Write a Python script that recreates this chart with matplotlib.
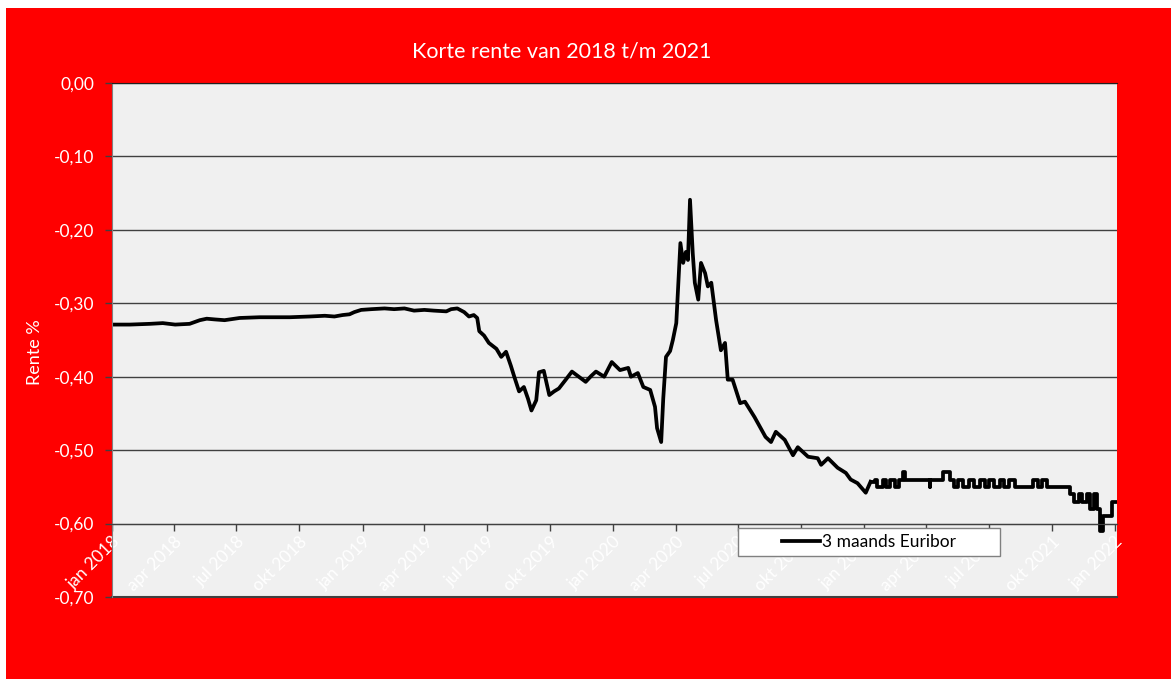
import matplotlib
matplotlib.use("Agg")
from matplotlib import pyplot as plt
from matplotlib.patches import Rectangle
from matplotlib.ticker import FuncFormatter
import pandas as pd

plt.rcParams['font.family'] = ['Lato', 'DejaVu Sans']

# 3 maands Euribor (datum, rente %)
datums = [
    "2018-01-01", "2018-01-27", "2018-02-25", "2018-03-16", "2018-04-03", "2018-04-24",
    "2018-05-09", "2018-05-19", "2018-05-31", "2018-06-14", "2018-07-06", "2018-08-04",
    "2018-09-17", "2018-10-16", "2018-11-07", "2018-11-21", "2018-12-03", "2018-12-13",
    "2018-12-20", "2018-12-30", "2019-01-14", "2019-02-02", "2019-02-16", "2019-03-03",
    "2019-03-17", "2019-04-01", "2019-04-15", "2019-05-03", "2019-05-10", "2019-05-19",
    "2019-05-29", "2019-06-05", "2019-06-12", "2019-06-17", "2019-06-20", "2019-06-27",
    "2019-07-04", "2019-07-15", "2019-07-22", "2019-07-29", "2019-08-05", "2019-08-10",
    "2019-08-17", "2019-08-24", "2019-08-30", "2019-09-04", "2019-09-11", "2019-09-15",
    "2019-09-22", "2019-09-30", "2019-10-07", "2019-10-14", "2019-10-24", "2019-11-02",
    "2019-11-12", "2019-11-22", "2019-11-30", "2019-12-07", "2019-12-19", "2019-12-30",
    "2020-01-11", "2020-01-23", "2020-01-27", "2020-02-06", "2020-02-14", "2020-02-24",
    "2020-03-02", "2020-03-05", "2020-03-11", "2020-03-14", "2020-03-18", "2020-03-24",
    "2020-03-28", "2020-04-02", "2020-04-08", "2020-04-12", "2020-04-16", "2020-04-19",
    "2020-04-22", "2020-04-26", "2020-04-29", "2020-05-04", "2020-05-08", "2020-05-14",
    "2020-05-18", "2020-05-23", "2020-05-30", "2020-06-06", "2020-06-12", "2020-06-16",
    "2020-06-23", "2020-07-04", "2020-07-11", "2020-07-25", "2020-08-10", "2020-08-18",
    "2020-08-25", "2020-09-07", "2020-09-19", "2020-09-26", "2020-10-11", "2020-10-25",
    "2020-10-30", "2020-11-09", "2020-11-23", "2020-12-05", "2020-12-12", "2020-12-22",
    "2021-01-03", "2021-01-10",
]
rente = [
    -0.329, -0.329, -0.328, -0.327, -0.329, -0.328,
    -0.323, -0.321, -0.322, -0.323, -0.320, -0.319,
    -0.319, -0.318, -0.317, -0.318, -0.316, -0.315,
    -0.312, -0.309, -0.308, -0.307, -0.308, -0.307,
    -0.310, -0.309, -0.310, -0.311, -0.308, -0.307,
    -0.312, -0.318, -0.316, -0.320, -0.338, -0.344,
    -0.354, -0.362, -0.373, -0.366, -0.385, -0.400,
    -0.420, -0.414, -0.430, -0.446, -0.432, -0.394,
    -0.392, -0.425, -0.420, -0.416, -0.404, -0.393,
    -0.400, -0.407, -0.399, -0.393, -0.400, -0.380,
    -0.391, -0.388, -0.400, -0.395, -0.414, -0.418,
    -0.441, -0.470, -0.489, -0.430, -0.373, -0.365,
    -0.350, -0.327, -0.218, -0.245, -0.230, -0.241,
    -0.159, -0.232, -0.272, -0.295, -0.245, -0.259,
    -0.277, -0.272, -0.323, -0.364, -0.354, -0.404,
    -0.404, -0.436, -0.434, -0.455, -0.482, -0.489,
    -0.475, -0.486, -0.507, -0.496, -0.509, -0.511,
    -0.520, -0.511, -0.524, -0.531, -0.540, -0.545,
    -0.558, -0.543,
]

# 2021: op twee decimalen afgerond, trapsgewijs
datums_2021 = [
    "2021-01-10", "2021-01-16", "2021-01-20", "2021-01-28", "2021-02-02", "2021-02-08",
    "2021-02-14", "2021-02-20", "2021-02-26", "2021-03-01", "2021-04-06", "2021-04-07",
    "2021-04-25", "2021-05-05", "2021-05-11", "2021-05-18", "2021-05-25", "2021-06-02",
    "2021-06-09", "2021-06-18", "2021-06-25", "2021-07-02", "2021-07-09", "2021-07-17",
    "2021-07-24", "2021-07-31", "2021-08-09", "2021-09-04", "2021-09-11", "2021-09-17",
    "2021-09-24", "2021-10-28", "2021-11-03", "2021-11-10", "2021-11-14", "2021-11-21",
    "2021-11-26", "2021-12-01", "2021-12-06", "2021-12-10", "2021-12-15", "2021-12-28",
    "2022-01-03",
]
rente_2021 = [
    -0.543, -0.54, -0.55, -0.54, -0.55, -0.54,
    -0.55, -0.54, -0.53, -0.54, -0.55, -0.54,
    -0.53, -0.54, -0.55, -0.54, -0.55, -0.54,
    -0.55, -0.54, -0.55, -0.54, -0.55, -0.54,
    -0.55, -0.54, -0.55, -0.54, -0.55, -0.54,
    -0.55, -0.56, -0.57, -0.56, -0.57, -0.56,
    -0.58, -0.56, -0.58, -0.61, -0.59, -0.57,
    -0.57,
]

yticks = [0.0, -0.1, -0.2, -0.3, -0.4, -0.5, -0.6, -0.7]
maanden = ["jan", "apr", "jul", "okt"]
xticks = pd.date_range("2018-01-01", "2022-01-01", freq="QS")
xlabels = [f"{maanden[(d.month - 1) // 3]} {d.year}" for d in xticks]

rood = "#FF0000"
fig = plt.figure(figsize=(11.71, 6.79), dpi=100, facecolor="white")
fig.add_artist(Rectangle((6 / 1171, 0), 1, 671 / 679, transform=fig.transFigure,
                         facecolor=rood, edgecolor="none", zorder=-10))

ax = fig.add_axes([112 / 1171, 82 / 679, 1005 / 1171, 514 / 679])
ax.set_facecolor("#F0F0F0")

ax.plot(pd.to_datetime(datums), rente, color="black", lw=2.7, label="3 maands Euribor",
        solid_joinstyle="round")
ax.plot(pd.to_datetime(datums_2021), rente_2021, color="black", lw=2.7,
        drawstyle="steps-post")


def komma(v, pos):
    if abs(v) < 1e-9:
        v = 0.0
    return f"{v:.2f}".replace(".", ",")


ax.set_ylim(-0.7, 0.0)
ax.set_xlim(pd.Timestamp("2018-01-01"), pd.Timestamp("2022-01-04"))
ax.set_yticks(yticks)
ax.yaxis.set_major_formatter(FuncFormatter(komma))
ax.grid(axis="y", color="#404040", lw=1.0)
ax.tick_params(axis="y", colors="#404040", labelcolor="white", labelsize=12.5,
               length=5, width=1, pad=8)

ax.set_xticks(xticks)
ax.set_xticklabels(xlabels)
ax.spines["bottom"].set_position(("data", -0.6))
ax.spines["bottom"].set_color("#404040")
ax.tick_params(axis="x", colors="#404040", labelcolor="white", labelsize=12.5,
               length=5, width=1, pad=2)
for lab in ax.get_xticklabels():
    lab.set_rotation(45)
    lab.set_ha("right")
    lab.set_va("top")
    lab.set_rotation_mode("anchor")

ax.spines["right"].set_visible(False)
ax.spines["left"].set_color("#808080")
ax.spines["top"].set_color("#202020")
ax.axhline(-0.7, color="#404040", lw=1.5, clip_on=False)

# legenda in een wit kader
ax.add_patch(Rectangle((0.623, 0.080), 0.261, 0.055, transform=ax.transAxes,
                       facecolor="white", edgecolor="#808080", lw=1, zorder=4))
leg = ax.legend(loc="center", bbox_to_anchor=(0.7535, 0.1075), frameon=False,
                fontsize=12.5, handlelength=2.2, handletextpad=0.1)
leg.set_zorder(5)

fig.text(0.48, 1 - 51 / 679, "Korte rente van 2018 t/m 2021", color="white",
         fontsize=15.5, ha="center", va="center")
fig.text(35 / 1171, 1 - 352 / 679, "Rente %", color="white", fontsize=13,
         rotation=90, ha="center", va="center")

fig.savefig("out.png", dpi=100, facecolor=fig.get_facecolor())
